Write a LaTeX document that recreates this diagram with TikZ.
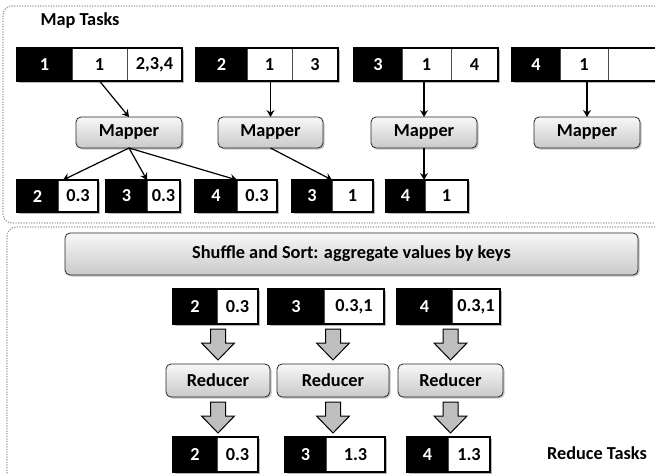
\documentclass[tikz,border=0pt]{standalone}
\usepackage{fontspec}
\setmainfont{Carlito}
\usetikzlibrary{calc,shadows,arrows.meta}
\tikzset{
  lbl/.style={font=\fontsize{18.3}{20}\selectfont\bfseries},
  keycell/.style={lbl, fill=black, text=white, draw=black, inner sep=0pt, outer sep=0pt, anchor=north west},
  valcell/.style={lbl, fill=white, text=black, draw=gray!60!black, line width=0.6pt, inner sep=0pt, outer sep=0pt, anchor=north west},
  recborder/.style={draw=black, line width=2pt},
  recshadow/.style={fill=gray!55},
  procbox/.style={lbl, rounded corners=5pt, draw=gray!30!black, line width=0.8pt,
    top color=gray!6, bottom color=gray!42, inner sep=0pt, outer sep=0pt,
    drop shadow={shadow xshift=1.5pt, shadow yshift=-1.5pt, opacity=0.45}},
  tasklbl/.style={lbl},
  flow/.style={draw=black, line width=1.2pt, -{Stealth[length=7pt,width=8pt,inset=2.5pt]}},
  blockarr/.style={draw=black, line width=1pt, fill=gray!50},
  region/.style={draw=gray!75, line width=1.3pt, dash pattern=on 1.2pt off 1.4pt, rounded corners=9pt},
}
\newcommand\kvrec[8]{% name, x, y, h, keyw, key, valw, val
  \fill[recshadow] ({#2+2},{#3+2}) rectangle ++({#5+#7},#4);
  \node[keycell, minimum width=#5, minimum height=#4] (#1k) at (#2,#3) {#6};
  \node[valcell, minimum width=#7, minimum height=#4] (#1v) at (#1k.north east) {#8};
  \draw[recborder] (#1k.north west) rectangle (#1v.south east);
}
\newcommand\kvvrec[9]{% name, x, y, keyw, key, w1, v1, w2, v2 (h=33)
  \fill[recshadow] ({#2+2},{#3+2}) rectangle ++({#4+#6+#8},33);
  \node[keycell, minimum width=#4, minimum height=33] (#1k) at (#2,#3) {#5};
  \node[valcell, minimum width=#6, minimum height=33] (#1v) at (#1k.north east) {#7};
  \node[valcell, minimum width=#8, minimum height=33] (#1w) at (#1v.north east) {#9};
  \draw[recborder] (#1k.north west) rectangle (#1w.south east);
}
\newcommand\blockdown[3]{% from node, to node, node giving x
  \draw[blockarr] let \p1=(#3.center), \p2=(#1.south), \p3=(#2.north) in
    (\x1-7.5pt,\y2-5pt) -- (\x1+7.5pt,\y2-5pt) -- (\x1+7.5pt,\y3+21pt) -- (\x1+16.5pt,\y3+21pt)
    -- (\x1,\y3+4pt) -- (\x1-16.5pt,\y3+21pt) -- (\x1-7.5pt,\y3+21pt) -- cycle;
}
\begin{document}
\begin{tikzpicture}[x=1pt,y=-1pt]
\useasboundingbox (0,0) rectangle (655,474);
\fill[white] (0,0) rectangle (655,474);
% regions
\draw[region] (720,6) -- (3,6) -- (3,223) -- (720,223);
\draw[region] (720,227) -- (7,227) -- (7,480);
\node[tasklbl] (maplbl) at (80,21) {Map Tasks};
\node[tasklbl] (redlbl) at (597,453) {Reduce Tasks};
% input records
\kvvrec{ra}{17}{48}{55}{1}{55}{1}{55}{2,3,4}
\kvvrec{rb}{196}{48}{51}{2}{45}{1}{46}{3}
\kvvrec{rc}{354}{48}{48}{3}{49}{1}{47}{4}
\kvvrec{rd}{512}{48}{48}{4}{48}{1}{55}{}
% mappers
\node[procbox, minimum width=106, minimum height=31] (m1) at (129,132.5) {Mapper};
\node[procbox, minimum width=105, minimum height=31] (m2) at (270.5,132.5) {Mapper};
\node[procbox, minimum width=106, minimum height=31] (m3) at (424,132.5) {Mapper};
\node[procbox, minimum width=106, minimum height=31] (m4) at (587,132.5) {Mapper};
% map outputs
\kvrec{oa}{17}{180}{32}{41}{2}{40}{0.3}
\kvrec{ob}{106}{180}{32}{41}{3}{33}{0.3}
\kvrec{oc}{195}{180}{32}{42}{4}{40}{0.3}
\kvrec{od}{292}{180}{32}{40}{3}{41}{1}
\kvrec{oe}{386}{180}{32}{39}{4}{43}{1}
% map arrows
\draw[flow] (rav.south) -- (m1.north);
\draw[flow] (m2.north |- rbv.south) -- (m2.north);
\draw[flow] (m3.north |- rcv.south) -- (m3.north);
\draw[flow] (m4.north |- rdv.south) -- (m4.north);
\draw[flow] (m1.south) -- ($(oav.north west)+(5,0)$);
\draw[flow] (m1.south) -- (obv.north west);
\draw[flow] (m1.south) -- (ocv.north west);
\draw[flow] (m2.south) -- (odv.north west);
\draw[flow] (m3.south) -- (m3.south |- oek.north);
% shuffle
\node[procbox, minimum width=573, minimum height=42] (sh) at (351.5,254) {Shuffle and Sort: aggregate values by keys};
% reduce inputs
\kvrec{ia}{173}{289}{35}{44}{2}{41}{0.3}
\kvrec{ib}{268}{289}{35}{56}{3}{60}{0.3,1}
\kvrec{ic}{397}{289}{35}{55}{4}{48}{0.3,1}
% reducers
\node[procbox, minimum width=104, minimum height=33] (q1) at (218,380.5) {Reducer};
\node[procbox, minimum width=112, minimum height=33] (q2) at (333,380.5) {Reducer};
\node[procbox, minimum width=105, minimum height=33] (q3) at (450.5,380.5) {Reducer};
% reduce outputs
\kvrec{fa}{173}{437}{35}{44}{2}{41}{0.3}
\kvrec{fb}{285}{437}{35}{41}{3}{59}{1.3}
\kvrec{fc}{407}{437}{35}{41}{4}{42}{1.3}
% block arrows
\blockdown{iak}{q1}{q1}
\blockdown{ibk}{q2}{q2}
\blockdown{ick}{q3}{q3}
\blockdown{q1}{fak}{q1}
\blockdown{q2}{fbk}{q2}
\blockdown{q3}{fck}{q3}
\end{tikzpicture}
\end{document}
